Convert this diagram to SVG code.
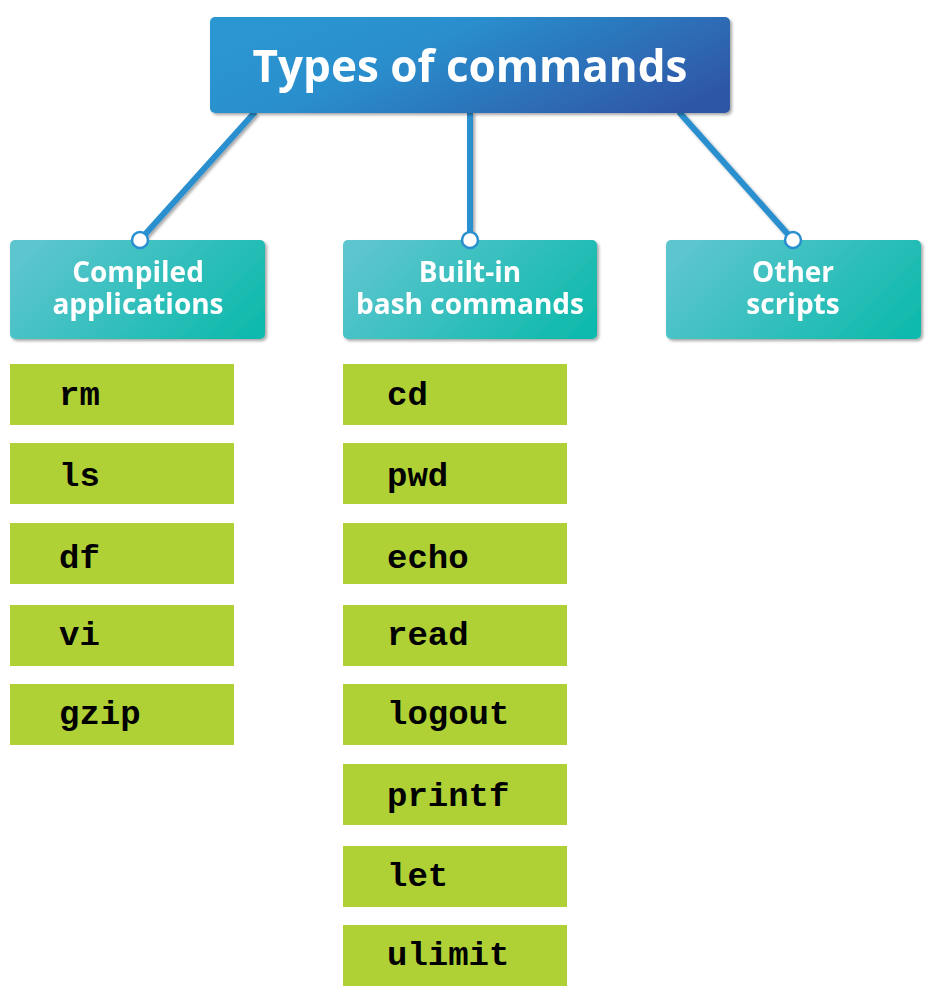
<svg xmlns="http://www.w3.org/2000/svg" width="928" height="1000" viewBox="0 0 928 1000">
<defs>
<linearGradient id="gTop" x1="0" y1="0.3" x2="1" y2="0.7">
<stop offset="0" stop-color="#2A97D2"/>
<stop offset="0.35" stop-color="#2A8ECD"/>
<stop offset="1" stop-color="#2F57A7"/>
</linearGradient>
<linearGradient id="gMid" x1="0" y1="0.3" x2="1" y2="0.7">
<stop offset="0" stop-color="#5CC5CE"/>
<stop offset="1" stop-color="#11BAAD"/>
</linearGradient>
<filter id="sh" x="-10%" y="-10%" width="120%" height="130%">
<feGaussianBlur in="SourceAlpha" stdDeviation="1.5"/>
<feOffset dx="2" dy="2"/>
<feComponentTransfer><feFuncA type="linear" slope="0.35"/></feComponentTransfer>
<feMerge><feMergeNode/><feMergeNode in="SourceGraphic"/></feMerge>
</filter>
<style>
.title{font-family:"Open Sans","Noto Sans",sans-serif;font-weight:bold;font-size:44px;fill:#fff;text-anchor:middle}
.cat{font-family:"Open Sans","Noto Sans",sans-serif;font-weight:bold;font-size:28px;fill:#fff;text-anchor:middle}
.cmd{font-family:"Liberation Mono","Courier New",monospace;font-weight:bold;font-size:34px;fill:#000}
.gbox{fill:#AFD136}
.conn{stroke:#2A8FCF;stroke-width:6;fill:none;stroke-linecap:butt}
.dot{fill:#fff;stroke:#2A8FCF;stroke-width:2.5}
</style>
</defs>
<g id="connectors" filter="url(#sh)">
<line class="conn" x1="255" y1="112" x2="140" y2="240"/>
<line class="conn" x1="470" y1="112" x2="470" y2="240"/>
<line class="conn" x1="679" y1="112" x2="793" y2="240"/>
</g>
<g id="top" filter="url(#sh)">
<rect x="210" y="17" width="520" height="96" rx="5" fill="url(#gTop)"/>
<text class="title" x="470" y="82">Types of commands</text>
</g>
<g id="compiled" filter="url(#sh)">
<rect x="10" y="240" width="255" height="99" rx="5" fill="url(#gMid)"/>
<text class="cat" x="138" y="282">Compiled</text>
<text class="cat" x="138" y="314">applications</text>
</g>
<g id="builtin" filter="url(#sh)">
<rect x="343" y="240" width="254" height="99" rx="5" fill="url(#gMid)"/>
<text class="cat" x="470" y="282">Built-in</text>
<text class="cat" x="470" y="314">bash commands</text>
</g>
<g id="other" filter="url(#sh)">
<rect x="666" y="240" width="255" height="99" rx="5" fill="url(#gMid)"/>
<text class="cat" x="793" y="282">Other</text>
<text class="cat" x="793" y="314">scripts</text>
</g>
<g id="dots">
<circle class="dot" cx="140" cy="240" r="8"/>
<circle class="dot" cx="470" cy="240" r="8"/>
<circle class="dot" cx="793" cy="240" r="8"/>
</g>
<g id="cmd-rm"><rect class="gbox" x="10" y="364" width="224" height="61"/><text class="cmd" x="59" y="405">rm</text></g>
<g id="cmd-ls"><rect class="gbox" x="10" y="443" width="224" height="61"/><text class="cmd" x="59" y="486">ls</text></g>
<g id="cmd-df"><rect class="gbox" x="10" y="523" width="224" height="61"/><text class="cmd" x="59" y="568">df</text></g>
<g id="cmd-vi"><rect class="gbox" x="10" y="605" width="224" height="61"/><text class="cmd" x="59" y="645">vi</text></g>
<g id="cmd-gzip"><rect class="gbox" x="10" y="684" width="224" height="61"/><text class="cmd" x="59" y="724">gzip</text></g>
<g id="cmd-cd"><rect class="gbox" x="343" y="364" width="224" height="61"/><text class="cmd" x="387" y="405">cd</text></g>
<g id="cmd-pwd"><rect class="gbox" x="343" y="443" width="224" height="61"/><text class="cmd" x="387" y="486">pwd</text></g>
<g id="cmd-echo"><rect class="gbox" x="343" y="523" width="224" height="61"/><text class="cmd" x="387" y="568">echo</text></g>
<g id="cmd-read"><rect class="gbox" x="343" y="605" width="224" height="61"/><text class="cmd" x="387" y="645">read</text></g>
<g id="cmd-logout"><rect class="gbox" x="343" y="684" width="224" height="61"/><text class="cmd" x="387" y="724">logout</text></g>
<g id="cmd-printf"><rect class="gbox" x="343" y="764" width="224" height="61"/><text class="cmd" x="387" y="806">printf</text></g>
<g id="cmd-let"><rect class="gbox" x="343" y="846" width="224" height="61"/><text class="cmd" x="387" y="886">let</text></g>
<g id="cmd-ulimit"><rect class="gbox" x="343" y="925" width="224" height="61"/><text class="cmd" x="387" y="965">ulimit</text></g>
</svg>
